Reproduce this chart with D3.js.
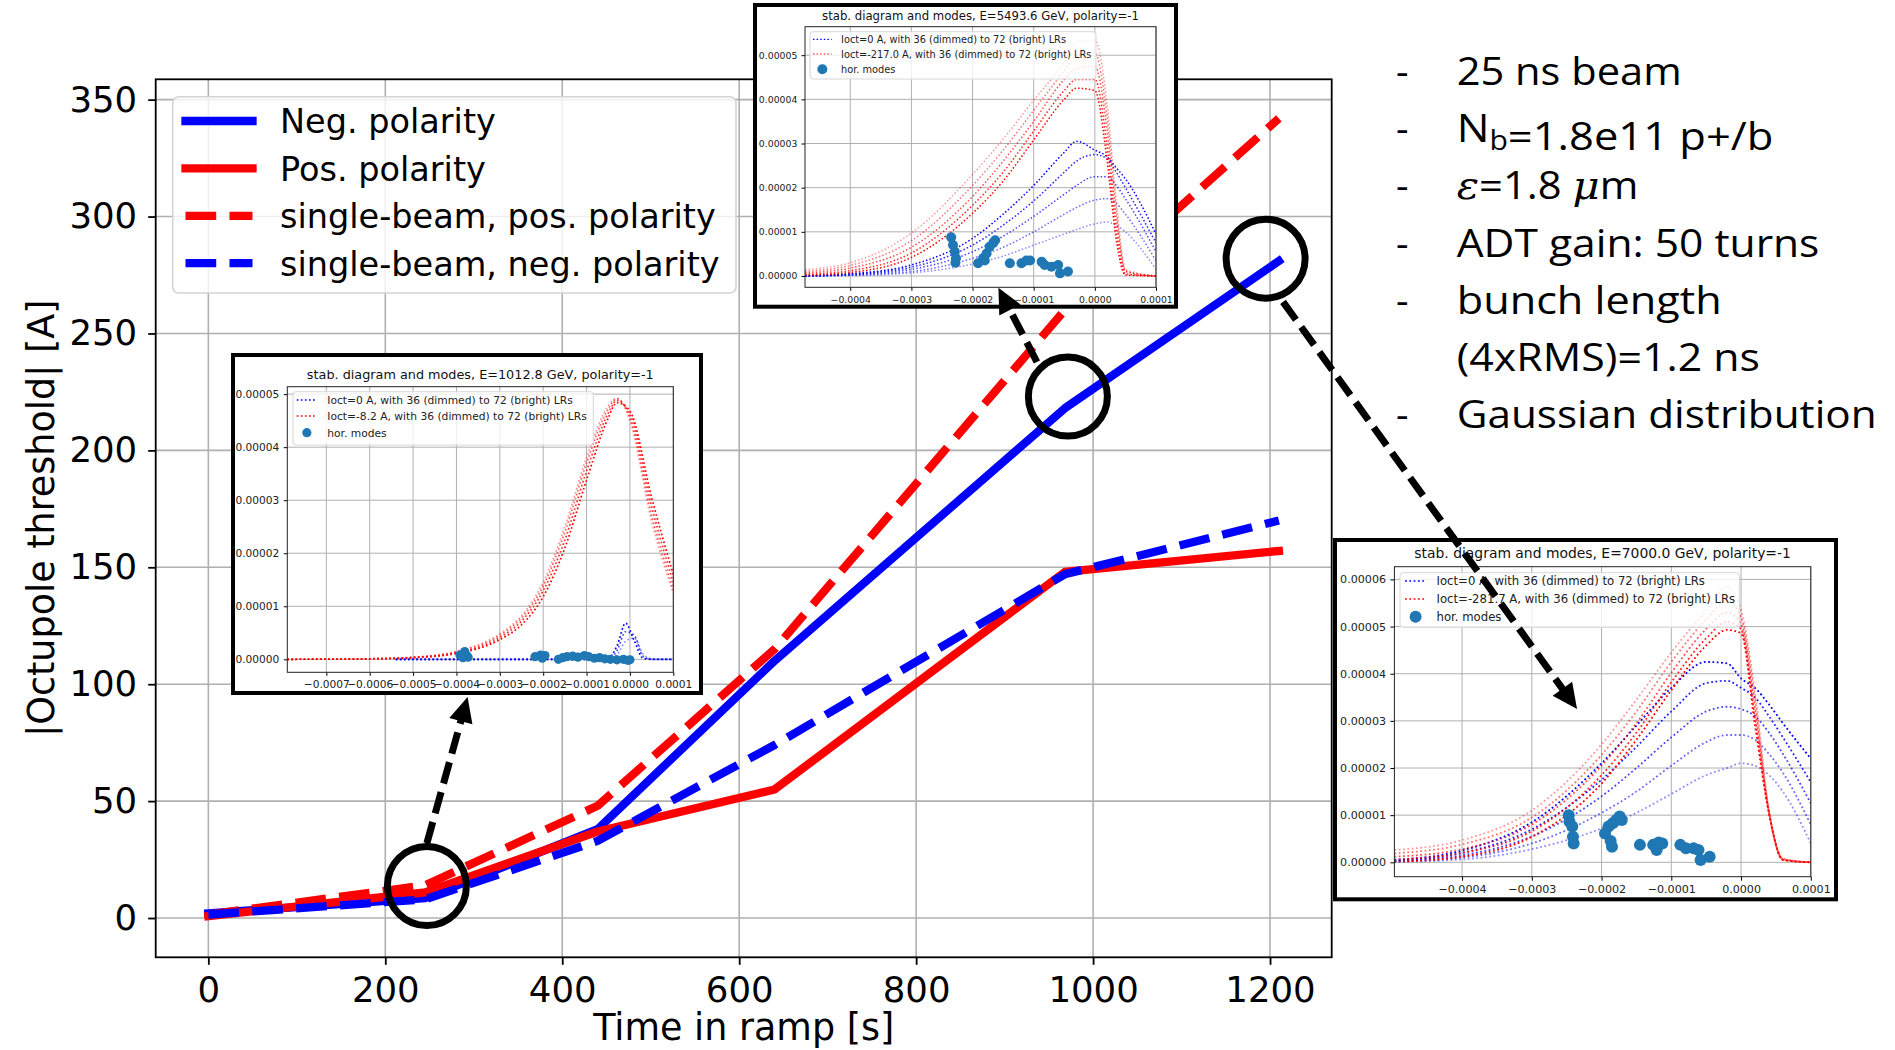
<!DOCTYPE html>
<html>
<head>
<meta charset="utf-8">
<script src="https://cdn.jsdelivr.net/npm/d3@7"></script>
<style>
html, body { margin: 0; padding: 0; background: #fff; }
svg { display: block; }
</style>
</head>
<body>
<div id="wrapper"></div>
<script>
// ---- main chart data: octupole threshold vs time in ramp ----
const TIME = [0, 245, 440, 640, 968, 1210];
const NEG_POLARITY = [2.0, 8.5, 38, 110, 218, 281];
const POS_POLARITY = [0.8, 11, 37, 55, 148, 157];
const SINGLE_POS = [1.5, 14, 48, 115, 260, 342];
const SINGLE_NEG = [1.5, 8, 33, 74, 147, 170];
const LEGEND_LABELS = ["Neg. polarity", "Pos. polarity", "single-beam, pos. polarity", "single-beam, neg. polarity"];
const X_TICKS = [0, 200, 400, 600, 800, 1000, 1200];
const Y_TICKS = [0, 50, 100, 150, 200, 250, 300, 350];

// ---- insets: tune shift in units of 1e-4, stability limit in units of 1e-5 ----
const INSET_ENERGY = ["1012.8", "5493.6", "7000.0"];
const INSET_IOCT = ["-8.2", "-217.0", "-281.7"];

const A_X = [-7.9, -6, -5, -4, -3, -2.5, -2, -1.5, -1, -0.5, -0.3, 0, 0.5, 1];
const A_RED = [
  [0, 0.01, 0.04, 0.15, 0.48, 0.82, 1.45, 2.5, 3.8, 4.78, 4.92, 4.5, 2.6, 1.25],
  [0, 0.01, 0.037, 0.14, 0.45, 0.78, 1.38, 2.4, 3.7, 4.72, 4.91, 4.55, 2.72, 1.32],
  [0, 0.01, 0.034, 0.12, 0.41, 0.72, 1.29, 2.25, 3.55, 4.64, 4.88, 4.62, 2.88, 1.45],
  [0, 0.01, 0.03, 0.11, 0.37, 0.65, 1.18, 2.1, 3.38, 4.55, 4.84, 4.68, 3.05, 1.6]
];
const A_BLUE_X = [-5.4, -1, -0.5, -0.3, -0.1, 0.1, 0.3, 0.5, 1];
const A_BLUE = [
  [0, 0, 0.02, 0.25, 0.68, 0.35, 0.02, 0, 0],
  [0, 0, 0.01, 0.16, 0.52, 0.45, 0.06, 0, 0],
  [0, 0, 0.005, 0.08, 0.34, 0.4, 0.1, 0.01, 0]
];
const A_MODES = [
  [-3.92, 0.08], [-3.81, 0.145], [-3.77, 0.08], [-3.73, 0.04], [-3.85, 0.03],
  [-2.19, 0.05], [-2.06, 0.08], [-1.96, 0.07], [-2.02, 0.02],
  [-1.65, 0.0], [-1.55, 0.03], [-1.45, 0.05], [-1.32, 0.06], [-1.2, 0.04], [-1.05, 0.07],
  [-0.95, 0.05], [-0.82, 0.02], [-0.7, 0.03], [-0.58, 0.01], [-0.45, 0.0], [-0.3, -0.01],
  [-0.15, 0.0], [-0.05, -0.02], [0, -0.01]
];
const A_XTICKS = [-7, -6, -5, -4, -3, -2, -1, 0, 1];
const A_YTICKS = [0, 1, 2, 3, 4, 5];

const B_X = [-4.74, -4, -3, -2, -1.5, -1, -0.5, -0.3, 0, 0.2, 0.35, 0.5, 1.0];
const B_RED = [
  [0.14, 0.3, 0.97, 2.3, 3.1, 3.98, 4.85, 5.3, 5.34, 3.9, 1.7, 0.15, 0],
  [0.1, 0.24, 0.8, 2.05, 2.85, 3.75, 4.65, 5.0, 5.05, 3.6, 1.5, 0.12, 0],
  [0.07, 0.18, 0.65, 1.8, 2.6, 3.5, 4.45, 4.7, 4.75, 3.3, 1.3, 0.1, 0],
  [0.04, 0.12, 0.52, 1.6, 2.35, 3.28, 4.2, 4.45, 4.45, 2.95, 1.05, 0.05, 0],
  [0.02, 0.08, 0.42, 1.42, 2.15, 3.08, 4.0, 4.25, 4.2, 2.62, 0.82, 0.02, 0]
];
const B_BLUE = [
  [0, 0.05, 0.25, 0.85, 1.4, 2.05, 2.8, 3.05, 2.85, 2.7, 2.45, 2.2, 0.95],
  [0, 0.04, 0.2, 0.7, 1.15, 1.7, 2.35, 2.6, 2.75, 2.65, 2.35, 2.0, 0.75],
  [0, 0.03, 0.15, 0.55, 0.9, 1.35, 1.85, 2.05, 2.25, 2.25, 2.05, 1.75, 0.55],
  [0, 0.02, 0.1, 0.4, 0.65, 1.0, 1.4, 1.55, 1.72, 1.75, 1.65, 1.4, 0.35],
  [0, 0.01, 0.07, 0.27, 0.45, 0.7, 0.95, 1.05, 1.18, 1.22, 1.15, 1.0, 0.15]
];
const B_MODES = [
  [-2.35, 0.875], [-2.32, 0.7], [-2.29, 0.55], [-2.27, 0.4], [-2.28, 0.3],
  [-1.91, 0.29], [-1.83, 0.4], [-1.77, 0.51], [-1.72, 0.66], [-1.66, 0.75], [-1.63, 0.81], [-1.8, 0.35],
  [-1.39, 0.29], [-1.2, 0.29], [-1.12, 0.35], [-1.06, 0.35], [-0.87, 0.32], [-0.82, 0.25],
  [-0.71, 0.21], [-0.6, 0.25], [-0.57, 0.06], [-0.44, 0.1]
];
const B_XTICKS = [-4, -3, -2, -1, 0, 1];
const B_YTICKS = [0, 1, 2, 3, 4, 5];

const C_X = [-4.97, -4, -3, -2, -1.5, -1, -0.5, -0.2, 0, 0.2, 0.4, 0.6, 1.0];
const C_RED = [
  [0.26, 0.47, 1.1, 2.5, 3.45, 4.45, 5.35, 5.85, 5.35, 3.6, 1.1, 0.08, 0],
  [0.19, 0.38, 0.95, 2.28, 3.2, 4.25, 5.15, 5.55, 5.2, 3.45, 1.08, 0.07, 0],
  [0.12, 0.28, 0.8, 2.05, 2.95, 4.02, 4.95, 5.3, 5.05, 3.25, 1.06, 0.06, 0],
  [0.06, 0.2, 0.66, 1.85, 2.75, 3.82, 4.75, 5.1, 4.95, 3.05, 1.05, 0.05, 0],
  [0.01, 0.12, 0.54, 1.67, 2.6, 3.65, 4.6, 4.93, 4.86, 2.9, 1.04, 0.05, 0]
];
const C_BLUE = [
  [0.05, 0.25, 0.85, 2.1, 2.9, 3.7, 4.25, 4.22, 3.9, 3.7, 3.35, 2.95, 2.2],
  [0.04, 0.2, 0.7, 1.75, 2.45, 3.2, 3.8, 3.85, 3.7, 3.5, 3.1, 2.65, 1.7],
  [0.03, 0.15, 0.55, 1.4, 2.0, 2.65, 3.2, 3.3, 3.25, 3.1, 2.75, 2.3, 1.25],
  [0.02, 0.1, 0.4, 1.05, 1.5, 2.05, 2.55, 2.7, 2.7, 2.6, 2.3, 1.9, 0.8],
  [0.01, 0.06, 0.28, 0.72, 1.05, 1.45, 1.85, 2.0, 2.1, 2.05, 1.85, 1.5, 0.4]
];
const C_MODES = [
  [-2.47, 1.0], [-2.46, 0.86], [-2.42, 0.76], [-2.41, 0.54], [-2.4, 0.4],
  [-1.95, 0.61], [-1.9, 0.76], [-1.84, 0.83], [-1.79, 0.9], [-1.74, 0.97], [-1.71, 0.9], [-1.85, 0.33], [-1.87, 0.45],
  [-1.45, 0.37], [-1.26, 0.37], [-1.21, 0.26], [-1.13, 0.4], [-1.18, 0.42], [-0.87, 0.37], [-0.79, 0.3],
  [-0.68, 0.3], [-0.61, 0.26], [-0.58, 0.05], [-0.45, 0.12]
];
const C_XTICKS = [-4, -3, -2, -1, 0, 1];
const C_YTICKS = [0, 1, 2, 3, 4, 5, 6];

// highlight circles (time, threshold) and arrows [from, to] in main data coords
const HIGHLIGHTS = [[247, 13.7], [971.5, 223], [1195, 282]];
const ARROWS = [
  [[247, 32], [293, 94.5]],
  [[936.5, 237.8], [893, 269.5]],
  [[1214.7, 263.5], [1547, 89.4]]
];

// parameter notes on the right
const NOTES = ["25 ns beam", "N_{b}=1.8e11 p+/b", "$ε$=1.8 $μ$m", "ADT gain: 50 turns", "bunch length", "(4xRMS)=1.2 ns", "Gaussian distribution"];
const NOTE_BULLET = [true, true, true, true, true, false, true];

// =====================================================================
const FONT = "'DejaVu Sans', sans-serif";
const svg = d3.select("#wrapper").append("svg").attr("width", 1895).attr("height", 1050);

const dim = { left: 155.7, right: 1331.7, top: 79.3, bottom: 957.3 };
const xScaler = d3.scaleLinear().domain([-59.5, 1269.7]).range([dim.left, dim.right]);
const yScaler = d3.scaleLinear().domain([-16.8, 358.7]).range([dim.bottom, dim.top]);

const plot = svg.append("g");

// grid
plot.append("g").selectAll("line").data(X_TICKS).join("line")
  .attr("x1", d => xScaler(d)).attr("x2", d => xScaler(d))
  .attr("y1", dim.top).attr("y2", dim.bottom)
  .attr("stroke", "#b0b0b0").attr("stroke-width", 1.6);
plot.append("g").selectAll("line").data(Y_TICKS).join("line")
  .attr("y1", d => yScaler(d)).attr("y2", d => yScaler(d))
  .attr("x1", dim.left).attr("x2", dim.right)
  .attr("stroke", "#b0b0b0").attr("stroke-width", 1.6);

function styleAxis(sel, size, lw) {
  sel.select(".domain").remove();
  sel.attr("font-family", FONT).attr("font-size", size);
  sel.selectAll(".tick line").attr("stroke", "#000").attr("stroke-width", lw);
  sel.selectAll(".tick text").attr("fill", "#000");
}

const xAxis = d3.axisBottom(xScaler).tickValues(X_TICKS).tickSize(7.5).tickPadding(12).tickFormat(d3.format("d"));
plot.append("g").attr("transform", `translate(0,${dim.bottom})`).call(xAxis).call(styleAxis, 35.5, 1.8);
const yAxis = d3.axisLeft(yScaler).tickValues(Y_TICKS).tickSize(7.5).tickPadding(11).tickFormat(d3.format("d"));
plot.append("g").attr("transform", `translate(${dim.left},0)`).call(yAxis).call(styleAxis, 35.5, 1.8);

// series
const SERIES = [
  { values: NEG_POLARITY, color: "#0000ff", dashed: false },
  { values: POS_POLARITY, color: "#ff0000", dashed: false },
  { values: SINGLE_POS, color: "#ff0000", dashed: true },
  { values: SINGLE_NEG, color: "#0000ff", dashed: true }
];
const LW = 8.3;
const DASH = `${3.7 * LW} ${1.6 * LW}`;
const lineGenerator = d3.line().x((d, i) => xScaler(TIME[i])).y(d => yScaler(d));
SERIES.forEach(s => {
  plot.append("path").attr("d", lineGenerator(s.values))
    .attr("fill", "none").attr("stroke", s.color).attr("stroke-width", LW)
    .attr("stroke-linejoin", "round")
    .attr("stroke-linecap", s.dashed ? "butt" : "square")
    .attr("stroke-dasharray", s.dashed ? DASH : null);
});

// spines
plot.append("rect").attr("x", dim.left).attr("y", dim.top)
  .attr("width", dim.right - dim.left).attr("height", dim.bottom - dim.top)
  .attr("fill", "none").attr("stroke", "#000").attr("stroke-width", 1.8);

// axis labels
svg.append("text").attr("x", (dim.left + dim.right) / 2).attr("y", 1040)
  .attr("text-anchor", "middle").attr("font-family", FONT).attr("font-size", 36.5)
  .text("Time in ramp [s]");
svg.append("text").attr("transform", `translate(54,${(dim.top + dim.bottom) / 2}) rotate(-90)`)
  .attr("text-anchor", "middle").attr("font-family", FONT).attr("font-size", 36.5)
  .text("|Octupole threshold| [A]");

// legend
const legend = svg.append("g");
legend.append("rect").attr("x", 172.7).attr("y", 96.7).attr("width", 736 - 172.7).attr("height", 293 - 96.7)
  .attr("rx", 6).attr("fill", "rgba(255,255,255,0.8)").attr("stroke", "#d4d4d4").attr("stroke-width", 1.6);
LEGEND_LABELS.forEach((label, i) => {
  const s = SERIES[i];
  const cy = 121 + i * 47.4;
  legend.append("line").attr("x1", 185.5).attr("x2", 252.5).attr("y1", cy).attr("y2", cy)
    .attr("stroke", s.color).attr("stroke-width", LW)
    .attr("stroke-linecap", s.dashed ? "butt" : "square")
    .attr("stroke-dasharray", s.dashed ? DASH : null);
  legend.append("text").attr("x", 280).attr("y", cy + 12.3)
    .attr("font-family", FONT).attr("font-size", 33.5).attr("fill", "#000").text(label);
});

// ---- insets ----
const INSETS = [
  { id: "A", box: [233, 355, 701, 693], axes: [287.3, 386.7, 673.3, 672.3],
    xDomain: [-7.9, 1], yDomain: [-0.245, 5.14], xTicks: A_XTICKS, yTicks: A_YTICKS,
    redX: A_X, red: A_RED, blueX: A_BLUE_X, blue: A_BLUE, modes: A_MODES,
    energy: INSET_ENERGY[0], ioct: INSET_IOCT[0], titleY: 379,
    fTitle: 12.8, fTick: 10.6, fLeg: 10.7, tick: 3.5, xPad: 5, yPad: 4.5, dotR: 4.6, lw: 1.7,
    leg: { box: [293, 391.7, 593.3, 445], rows: [400, 416, 432.7], hx: [296.7, 317], tx: 327.3, r: 4.6 } },
  { id: "B", box: [755, 5, 1176, 306.7], axes: [805, 26.7, 1156, 287.3],
    xDomain: [-4.74, 1], yDomain: [-0.256, 5.645], xTicks: B_XTICKS, yTicks: B_YTICKS,
    redX: B_X, red: B_RED, blueX: B_X, blue: B_BLUE, modes: B_MODES,
    energy: INSET_ENERGY[1], ioct: INSET_IOCT[1], titleY: 20,
    fTitle: 11.7, fTick: 9.3, fLeg: 9.8, tick: 3.5, xPad: 5.3, yPad: 4.2, dotR: 5, lw: 1.5,
    leg: { box: [810, 31.7, 1096, 79], rows: [39.3, 54, 69.3], hx: [813, 831.7], tx: 841, r: 5 } },
  { id: "C", box: [1335, 540, 1836, 899.3], axes: [1394.4, 566.7, 1810.8, 876.7],
    xDomain: [-4.97, 1], yDomain: [-0.305, 6.27], xTicks: C_XTICKS, yTicks: C_YTICKS,
    redX: C_X, red: C_RED, blueX: C_X, blue: C_BLUE, modes: C_MODES,
    energy: INSET_ENERGY[2], ioct: INSET_IOCT[2], titleY: 558.3,
    fTitle: 13.9, fTick: 11.1, fLeg: 11.7, tick: 4, xPad: 4.7, yPad: 4.4, dotR: 6, lw: 1.8,
    leg: { box: [1400, 572.7, 1739.4, 627.3], rows: [581, 599, 616.7], hx: [1405, 1426.2], tx: 1436.5, r: 6 } }
];

function drawInset(cfg) {
  const g = svg.append("g");
  const [bx0, by0, bx1, by1] = cfg.box;
  const [ax0, ay0, ax1, ay1] = cfg.axes;
  g.append("rect").attr("x", bx0).attr("y", by0).attr("width", bx1 - bx0).attr("height", by1 - by0)
    .attr("fill", "#fff").attr("stroke", "#000").attr("stroke-width", 4);

  const sx = d3.scaleLinear().domain(cfg.xDomain).range([ax0, ax1]);
  const sy = d3.scaleLinear().domain(cfg.yDomain).range([ay1, ay0]);

  g.append("clipPath").attr("id", "clip" + cfg.id).append("rect")
    .attr("x", ax0).attr("y", ay0).attr("width", ax1 - ax0).attr("height", ay1 - ay0);

  g.append("g").selectAll("line").data(cfg.xTicks).join("line")
    .attr("x1", d => sx(d)).attr("x2", d => sx(d)).attr("y1", ay0).attr("y2", ay1)
    .attr("stroke", "#b0b0b0").attr("stroke-width", 1);
  g.append("g").selectAll("line").data(cfg.yTicks).join("line")
    .attr("y1", d => sy(d)).attr("y2", d => sy(d)).attr("x1", ax0).attr("x2", ax1)
    .attr("stroke", "#b0b0b0").attr("stroke-width", 1);

  const xa = d3.axisBottom(sx).tickValues(cfg.xTicks).tickSize(cfg.tick).tickPadding(cfg.xPad)
    .tickFormat(v => d3.format(".4f")(v * 1e-4));
  g.append("g").attr("transform", `translate(0,${ay1})`).call(xa).call(styleAxis, cfg.fTick, 1);
  const ya = d3.axisLeft(sy).tickValues(cfg.yTicks).tickSize(cfg.tick).tickPadding(cfg.yPad)
    .tickFormat(v => d3.format(".5f")(v * 1e-5));
  g.append("g").attr("transform", `translate(${ax0},0)`).call(ya).call(styleAxis, cfg.fTick, 1);
  g.selectAll(".tick text").attr("fill", "#222");

  const dots = `${cfg.lw} ${cfg.lw * 1.4}`;
  const curves = g.append("g").attr("clip-path", `url(#clip${cfg.id})`);
  const nb = cfg.blue.length, nr = cfg.red.length;
  cfg.blue.forEach((ys, i) => {
    const gen = d3.line().x((d, k) => sx(cfg.blueX[k])).y(d => sy(d)).curve(d3.curveMonotoneX);
    curves.append("path").attr("d", gen(ys)).attr("fill", "none")
      .attr("stroke", "#0000ff").attr("stroke-opacity", 1 - 0.55 * i / Math.max(1, nb - 1))
      .attr("stroke-width", cfg.lw).attr("stroke-dasharray", dots);
  });
  cfg.red.forEach((ys, i) => {
    const gen = d3.line().x((d, k) => sx(cfg.redX[k])).y(d => sy(d)).curve(d3.curveMonotoneX);
    curves.append("path").attr("d", gen(ys)).attr("fill", "none")
      .attr("stroke", "#ff0000").attr("stroke-opacity", 0.4 + 0.6 * i / Math.max(1, nr - 1))
      .attr("stroke-width", cfg.lw).attr("stroke-dasharray", dots);
  });
  curves.append("g").selectAll("circle").data(cfg.modes).join("circle")
    .attr("cx", d => sx(d[0])).attr("cy", d => sy(d[1])).attr("r", cfg.dotR).attr("fill", "#1f77b4");

  g.append("rect").attr("x", ax0).attr("y", ay0).attr("width", ax1 - ax0).attr("height", ay1 - ay0)
    .attr("fill", "none").attr("stroke", "#222").attr("stroke-width", 1);

  g.append("text").attr("x", (ax0 + ax1) / 2).attr("y", cfg.titleY).attr("text-anchor", "middle")
    .attr("font-family", FONT).attr("font-size", cfg.fTitle).attr("fill", "#111")
    .text(`stab. diagram and modes, E=${cfg.energy} GeV, polarity=-1`);

  // legend
  const L = cfg.leg;
  g.append("rect").attr("x", L.box[0]).attr("y", L.box[1]).attr("width", L.box[2] - L.box[0]).attr("height", L.box[3] - L.box[1])
    .attr("rx", 3).attr("fill", "rgba(255,255,255,0.8)").attr("stroke", "#d8d8d8").attr("stroke-width", 1);
  const labels = [`Ioct=0 A, with 36 (dimmed) to 72 (bright) LRs`,
                  `Ioct=${cfg.ioct} A, with 36 (dimmed) to 72 (bright) LRs`, "hor. modes"];
  ["#0000ff", "#ff0000"].forEach((c, i) => {
    g.append("line").attr("x1", L.hx[0]).attr("x2", L.hx[1]).attr("y1", L.rows[i]).attr("y2", L.rows[i])
      .attr("stroke", c).attr("stroke-width", cfg.lw * 0.8).attr("stroke-dasharray", dots);
  });
  g.append("circle").attr("cx", (L.hx[0] + L.hx[1]) / 2).attr("cy", L.rows[2]).attr("r", L.r).attr("fill", "#1f77b4");
  labels.forEach((t, i) => {
    g.append("text").attr("x", L.tx).attr("y", L.rows[i] + cfg.fLeg * 0.36)
      .attr("font-family", FONT).attr("font-size", cfg.fLeg).attr("fill", "#222").text(t);
  });
}
INSETS.forEach(drawInset);

// ---- highlight circles and arrows ----
const annot = svg.append("g");
annot.selectAll("circle").data(HIGHLIGHTS).join("circle")
  .attr("cx", d => xScaler(d[0])).attr("cy", d => yScaler(d[1])).attr("r", 39.5)
  .attr("fill", "none").attr("stroke", "#000").attr("stroke-width", 7);

ARROWS.forEach(([from, to]) => {
  const p0 = [xScaler(from[0]), yScaler(from[1])];
  const p1 = [xScaler(to[0]), yScaler(to[1])];
  const dx = p1[0] - p0[0], dy = p1[1] - p0[1], len = Math.hypot(dx, dy);
  const ux = dx / len, uy = dy / len;
  const headL = 25, headW = 12;
  const base = [p1[0] - ux * headL, p1[1] - uy * headL];
  annot.append("line").attr("x1", p0[0]).attr("y1", p0[1]).attr("x2", base[0] + ux * 2).attr("y2", base[1] + uy * 2)
    .attr("stroke", "#000").attr("stroke-width", 7).attr("stroke-dasharray", "22 9");
  annot.append("path")
    .attr("d", `M${p1[0]},${p1[1]}L${base[0] - uy * headW},${base[1] + ux * headW}L${base[0] + uy * headW},${base[1] - ux * headW}Z`)
    .attr("fill", "#000");
});

// ---- notes ----
const NOTE_FONT = "'Open Sans', 'Noto Sans', sans-serif";
const NOTE_WIDTH = [225, 316.7, 181.7, 362.7, 265, 303.3, 420];
const notes = svg.append("g").attr("font-family", NOTE_FONT).attr("font-size", 39).attr("fill", "#000");
NOTES.forEach((txt, i) => {
  const yb = 85 + i * 57.2;
  if (NOTE_BULLET[i]) notes.append("text").attr("x", 1396).attr("y", yb).text("-");
  const t = notes.append("text").attr("x", 1456.7).attr("y", yb)
    .attr("textLength", NOTE_WIDTH[i]).attr("lengthAdjust", "spacingAndGlyphs");
  txt.split(/(_\{[^}]*\}|\$[^$]*\$)/).filter(s => s.length).forEach(part => {
    if (part.startsWith("_{")) {
      t.append("tspan").attr("font-size", 27).attr("dy", 8).text(part.slice(2, -1));
      t.append("tspan").attr("dy", -8).text("");
    } else if (part.startsWith("$")) {
      t.append("tspan").attr("font-style", "italic").attr("font-family", "'DejaVu Serif', serif").text(part.slice(1, -1));
    } else {
      t.append("tspan").text(part);
    }
  });
});
</script>
</body>
</html>
